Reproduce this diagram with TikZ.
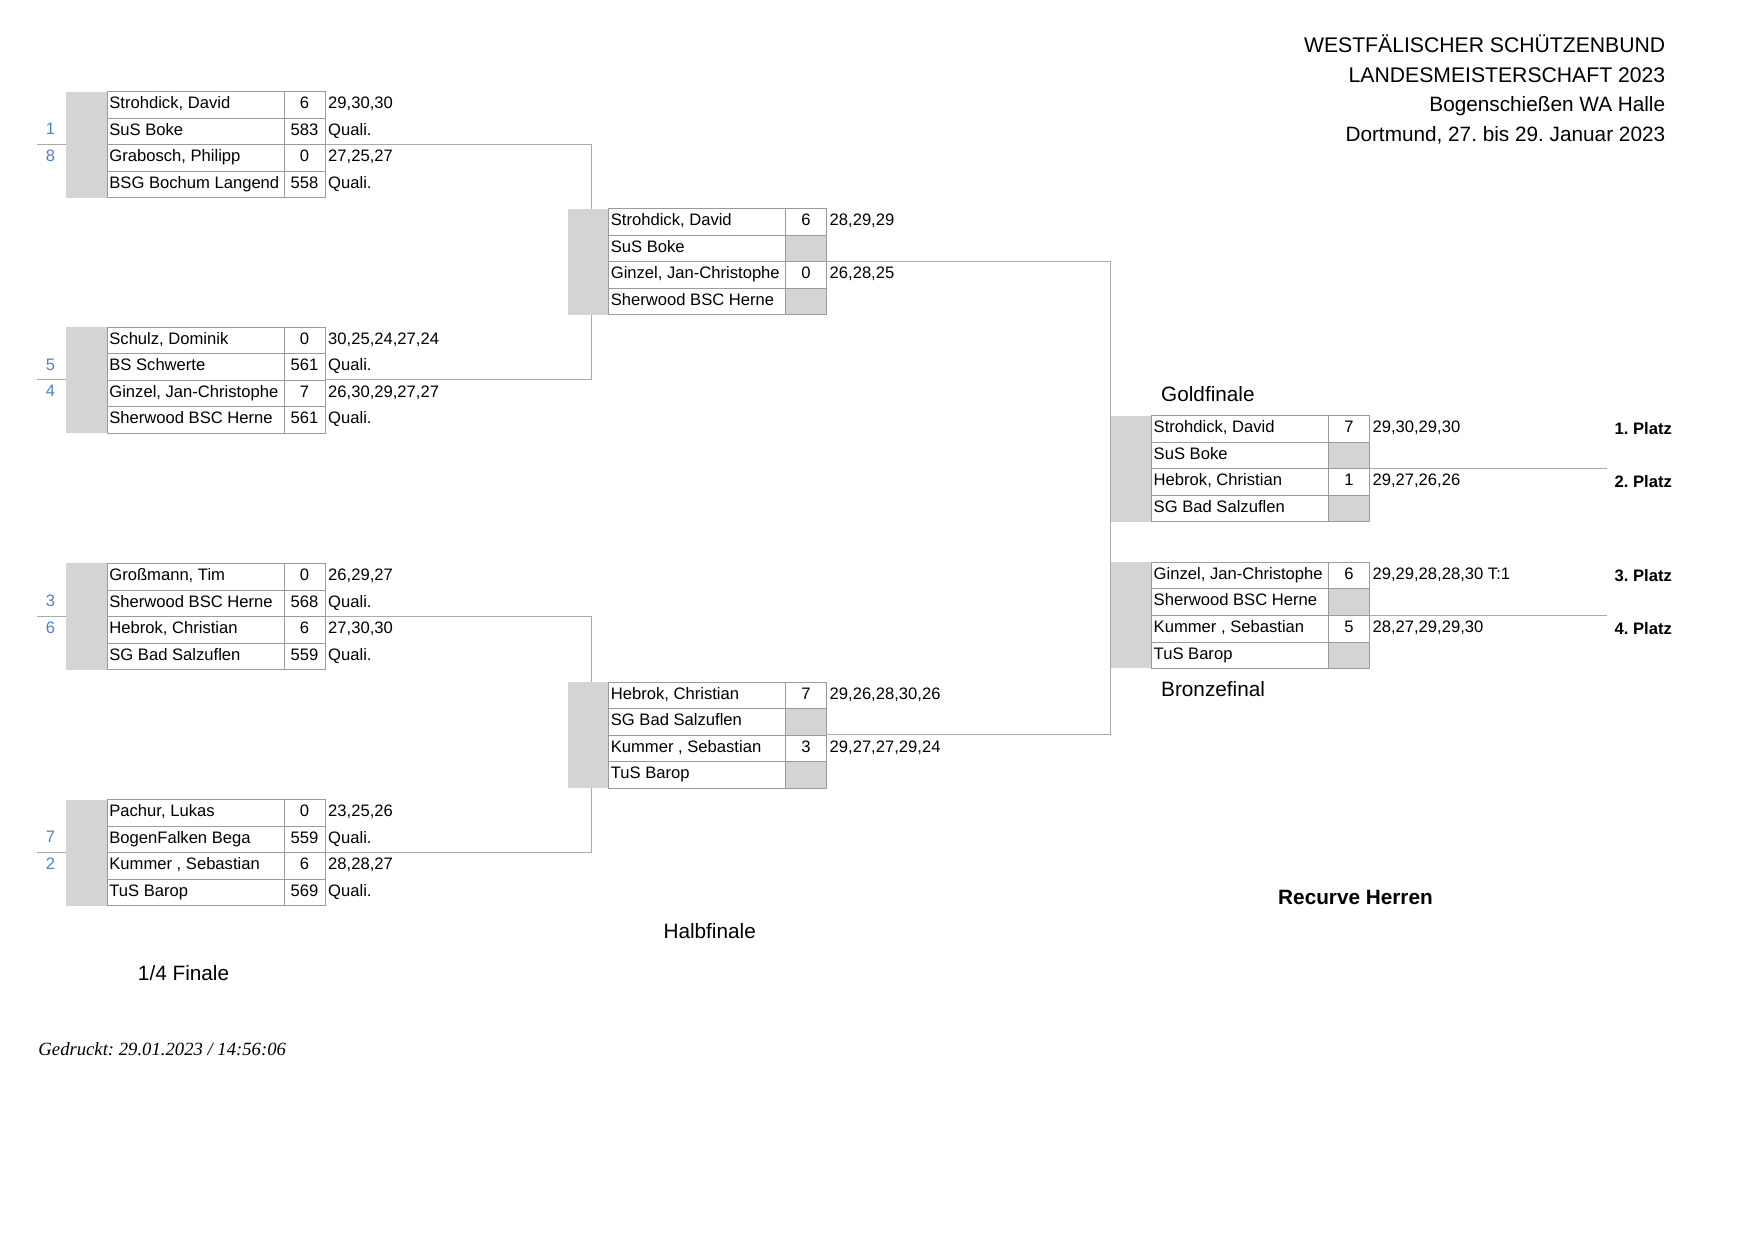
\documentclass[tikz,border=0pt]{standalone}
\usepackage{fontspec}
\setmainfont{Liberation Sans}
\newfontfamily\timesfont{Liberation Serif}
\frenchspacing
\definecolor{cellgray}{RGB}{212,212,212}
\definecolor{linegray}{RGB}{155,155,155}
\definecolor{conngray}{RGB}{170,170,170}
\definecolor{seedblue}{RGB}{84,130,190}
\def\U{0.18953mm}
\newcommand{\pl}[8]{%
  \node[graybox] (#1g) at (#2,#3) {};
  \node[namecell] (#1n) at ({#2+36.5},#3) {};
  \node[txt] (#1nt) at ([xshift=0.35mm]#1n.west) {#4};
  \node[namecell] (#1c) at ({#2+36.5},{#3+23.7}) {};
  \node[txt] (#1ct) at ([xshift=0.35mm]#1c.west) {#5};
  \node[scorecell] (#1s) at ({#2+194.5},#3) {#6};
  \node[#7] (#1q) at ({#2+194.5},{#3+23.7}) {#8};
}
\newcommand{\res}[3]{%
  \node[txt] (#1r) at ([xshift=0.4mm]#1s.east) {#2};
  \node[txt] (#1qr) at ([xshift=0.4mm]#1q.east) {#3};
}
\begin{document}
\begin{tikzpicture}[x=0.18953mm,y=-0.18953mm,
  fixh/.style={text height=5.8pt,text depth=2.1pt},
  graybox/.style={fill=cellgray,draw=none,anchor=north west,minimum width=36.5*\U,minimum height=47.4*\U,inner sep=0pt},
  namecell/.style={draw=linegray,fill=white,line width=0.4pt,anchor=north west,minimum width=158*\U,minimum height=23.7*\U,inner sep=0pt},
  scorecell/.style={namecell,minimum width=36.5*\U,font=\fontsize{8}{9.6}\selectfont,fixh},
  subgray/.style={scorecell,fill=cellgray},
  txt/.style={font=\fontsize{8}{9.6}\selectfont,inner sep=0pt,anchor=west,fixh},
  seed/.style={font=\fontsize{8}{9.6}\selectfont,inner sep=0pt,text=seedblue,fixh},
  platz/.style={font=\bfseries\fontsize{8}{9.6}\selectfont,inner sep=0pt,anchor=east,text height=5.8pt,text depth=0pt},
  lbl/.style={font=\fontsize{10}{12}\selectfont,inner sep=0pt,text height=7.2pt,text depth=0pt},
  head/.style={font=\fontsize{10}{12}\selectfont,inner sep=0pt,anchor=east,text height=7.2pt,text depth=0pt},
  bighead/.style={head,font=\fontsize{10.2}{12}\selectfont},
  conn/.style={draw=conngray,line width=0.4pt}]
\fill[white] (0,0) rectangle (1567,1108);
\useasboundingbox (0,0) rectangle (1567,1108);

% connector coordinates
\coordinate (qa1) at (33,128.9);  \coordinate (qb1) at (528,128.9);
\coordinate (qa2) at (33,339.4);  \coordinate (qb2) at (528,339.4);
\coordinate (qa3) at (33,550.4);  \coordinate (qb3) at (528,550.4);
\coordinate (qa4) at (33,761.4);  \coordinate (qb4) at (528,761.4);
\coordinate (sa1) at (507,233.4); \coordinate (sb1) at (992,233.4);
\coordinate (sa2) at (507,656.4); \coordinate (sb2) at (992,656.4);
\coordinate (fa1) at (992,418.4); \coordinate (fb1) at (1436,418.4);
\coordinate (fa2) at (992,549.4); \coordinate (fb2) at (1436,549.4);
\draw[conn] (qa1) -- (qb1) |- (qa2);
\draw[conn] (qa3) -- (qb3) |- (qa4);
\draw[conn] (sa1) -- (sb1) |- (sa2);
\draw[conn] (fa1) -- (fb1);
\draw[conn] (fa2) -- (fb2);

% header
\node[bighead] (h1) at (1488,40) {WESTFÄLISCHER SCHÜTZENBUND};
\node[bighead] (h2) at (1488,67) {LANDESMEISTERSCHAFT 2023};
\node[head] (h3) at (1488,93) {Bogenschießen WA Halle};
\node[head] (h4) at (1488,120) {Dortmund, 27. bis 29. Januar 2023};

% quarter finals
\pl{qAa}{59}{81.5}{Strohdick, David}{SuS Boke}{6}{scorecell}{583}
\res{qAa}{29,30,30}{Quali.}
\pl{qAb}{59}{128.9}{Grabosch, Philipp}{BSG Bochum Langend}{0}{scorecell}{558}
\res{qAb}{27,25,27}{Quali.}
\node[seed] (sd1) at (45,117) {1};
\node[seed] (sd8) at (45,140.7) {8};

\pl{qBa}{59}{292}{Schulz, Dominik}{BS Schwerte}{0}{scorecell}{561}
\res{qBa}{30,25,24,27,24}{Quali.}
\pl{qBb}{59}{339.4}{Ginzel, Jan-Christophe}{Sherwood BSC Herne}{7}{scorecell}{561}
\res{qBb}{26,30,29,27,27}{Quali.}
\node[seed] (sd5) at (45,327.5) {5};
\node[seed] (sd4) at (45,351.2) {4};

\pl{qCa}{59}{503}{Großmann, Tim}{Sherwood BSC Herne}{0}{scorecell}{568}
\res{qCa}{26,29,27}{Quali.}
\pl{qCb}{59}{550.4}{Hebrok, Christian}{SG Bad Salzuflen}{6}{scorecell}{559}
\res{qCb}{27,30,30}{Quali.}
\node[seed] (sd3) at (45,538.5) {3};
\node[seed] (sd6) at (45,562.2) {6};

\pl{qDa}{59}{714}{Pachur, Lukas}{BogenFalken Bega}{0}{scorecell}{559}
\res{qDa}{23,25,26}{Quali.}
\pl{qDb}{59}{761.4}{Kummer , Sebastian}{TuS Barop}{6}{scorecell}{569}
\res{qDb}{28,28,27}{Quali.}
\node[seed] (sd7) at (45,749.5) {7};
\node[seed] (sd2) at (45,773.2) {2};

% semi finals
\pl{sAa}{507}{186}{Strohdick, David}{SuS Boke}{6}{subgray}{}
\res{sAa}{28,29,29}{}
\pl{sAb}{507}{233.4}{Ginzel, Jan-Christophe}{Sherwood BSC Herne}{0}{subgray}{}
\res{sAb}{26,28,25}{}
\pl{sBa}{507}{609}{Hebrok, Christian}{SG Bad Salzuflen}{7}{subgray}{}
\res{sBa}{29,26,28,30,26}{}
\pl{sBb}{507}{656.4}{Kummer , Sebastian}{TuS Barop}{3}{subgray}{}
\res{sBb}{29,27,27,29,24}{}

% finals
\pl{gA}{992}{371}{Strohdick, David}{SuS Boke}{7}{subgray}{}
\res{gA}{29,30,29,30}{}
\pl{gB}{992}{418.4}{Hebrok, Christian}{SG Bad Salzuflen}{1}{subgray}{}
\res{gB}{29,27,26,26}{}
\pl{bA}{992}{502}{Ginzel, Jan-Christophe}{Sherwood BSC Herne}{6}{subgray}{}
\res{bA}{29,29,28,28,30 T:1}{}
\pl{bB}{992}{549.4}{Kummer , Sebastian}{TuS Barop}{5}{subgray}{}
\res{bB}{28,27,29,29,30}{}

\node[platz] (p1) at (1494,383) {1. Platz};
\node[platz] (p2) at (1494,430.2) {2. Platz};
\node[platz] (p3) at (1494,513.8) {3. Platz};
\node[platz] (p4) at (1494,561.2) {4. Platz};

% labels
\node[lbl,anchor=west] (lgold) at (1037,352) {Goldfinale};
\node[lbl,anchor=west] (lbronze) at (1037,616) {Bronzefinal};
\node[lbl] (lhalb) at (634,832) {Halbfinale};
\node[lbl] (lqf) at (164,869) {1/4 Finale};
\node[lbl,font=\bfseries\fontsize{10}{12}\selectfont] (lrec) at (1211,801) {Recurve Herren};
\node[anchor=west,inner sep=0pt,font=\timesfont\itshape\fontsize{9}{11}\selectfont,text height=6.3pt,text depth=0pt] (lprint) at (34,937) {Gedruckt: 29.01.2023 / 14:56:06};
\end{tikzpicture}
\end{document}
